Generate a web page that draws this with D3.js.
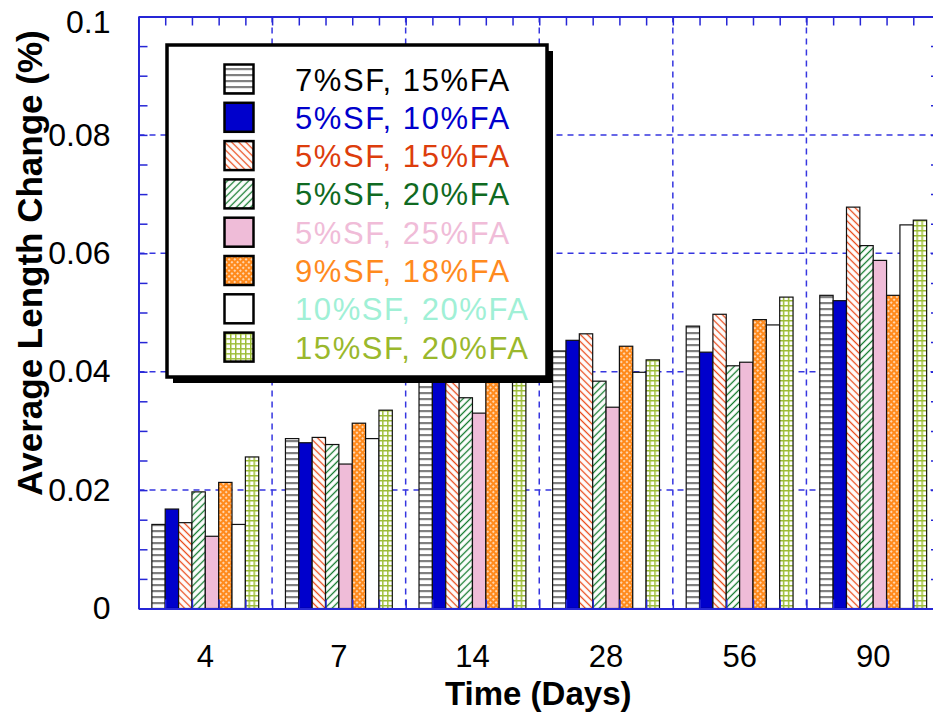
<!DOCTYPE html>
<html>
<head>
<meta charset="utf-8">
<script src="https://cdn.jsdelivr.net/npm/d3@7"></script>
<style>
  body { margin: 0; background: #fff; }
  svg { display: block; font-family: "Liberation Sans", Arial, sans-serif; }
</style>
</head>
<body>
<div id="chart"></div>
<script>
// categories and series
const days = ['4', '7', '14', '28', '56', '90'];
const mixes = [
  '7%SF, 15%FA', '5%SF, 10%FA', '5%SF, 15%FA', '5%SF, 20%FA',
  '5%SF, 25%FA', '9%SF, 18%FA', '10%SF, 20%FA', '15%SF, 20%FA',
];
const sf7fa15 = [0.0142, 0.0287, 0.0400, 0.0435, 0.0477, 0.0529];
const sf5fa10 = [0.0168, 0.0280, 0.0410, 0.0453, 0.0433, 0.0520];
const sf5fa15 = [0.0145, 0.0289, 0.0420, 0.0464, 0.0497, 0.0678];
const sf5fa20 = [0.0197, 0.0277, 0.0356, 0.0384, 0.0410, 0.0613];
const sf5fa25 = [0.0122, 0.0244, 0.0330, 0.0340, 0.0416, 0.0588];
const sf9fa18 = [0.0213, 0.0313, 0.0430, 0.0443, 0.0488, 0.0529];
const sf10fa20 = [0.0142, 0.0287, 0.0390, 0.0399, 0.0479, 0.0648];
const sf15fa20 = [0.0256, 0.0335, 0.0400, 0.0420, 0.0526, 0.0656];
const seriesValues = [sf7fa15, sf5fa10, sf5fa15, sf5fa20, sf5fa25, sf9fa18, sf10fa20, sf15fa20];
const yMajorTicks = [0, 0.02, 0.04, 0.06, 0.08, 0.1];
const yTickLabels = ['0', '0.02', '0.04', '0.06', '0.08', '0.1'];

const textColors = ['#000000', '#0000cc', '#dd3d0c', '#0f6a22', '#f0bcd8', '#ff8a1e', '#a0f0d6', '#9ab82c'];
const fills = ['url(#p-hstripe)', '#0000cc', 'url(#p-bdiag)', 'url(#p-fdiag)', '#efbcd8', 'url(#p-dots)', '#ffffff', 'url(#p-grid)'];

const W = 933;
const H = 714;
const plot = { left: 138.5, top: 16.5, right: 940, bottom: 608.5 };
const axisColor = '#2626d6';

const svg = d3.select('#chart').append('svg')
  .attr('width', W)
  .attr('height', H);

// patterns
const defs = svg.append('defs');

const hs = defs.append('pattern').attr('id', 'p-hstripe')
  .attr('patternUnits', 'userSpaceOnUse').attr('width', 6).attr('height', 6);
hs.append('rect').attr('width', 6).attr('height', 6).attr('fill', '#fff');
hs.append('rect').attr('y', 2).attr('width', 6).attr('height', 2.2).attr('fill', '#808080');

const bd = defs.append('pattern').attr('id', 'p-bdiag')
  .attr('patternUnits', 'userSpaceOnUse').attr('width', 5).attr('height', 5)
  .attr('patternTransform', 'rotate(-45)');
bd.append('rect').attr('width', 5).attr('height', 5).attr('fill', '#fff');
bd.append('line').attr('x1', 2.5).attr('x2', 2.5).attr('y1', 0).attr('y2', 5)
  .attr('stroke', '#ea4a1a').attr('stroke-width', 1.3);

const fd = defs.append('pattern').attr('id', 'p-fdiag')
  .attr('patternUnits', 'userSpaceOnUse').attr('width', 5).attr('height', 5)
  .attr('patternTransform', 'rotate(45)');
fd.append('rect').attr('width', 5).attr('height', 5).attr('fill', '#fff');
fd.append('line').attr('x1', 2.5).attr('x2', 2.5).attr('y1', 0).attr('y2', 5)
  .attr('stroke', '#137a2e').attr('stroke-width', 1.3);

const dt = defs.append('pattern').attr('id', 'p-dots')
  .attr('patternUnits', 'userSpaceOnUse').attr('width', 4).attr('height', 4)
  .attr('patternTransform', 'rotate(45)');
dt.append('rect').attr('width', 4).attr('height', 4).attr('fill', '#ff8a1c');
dt.append('rect').attr('x', 1.2).attr('y', 1.2).attr('width', 1.6).attr('height', 1.6).attr('fill', '#fff');

const gr = defs.append('pattern').attr('id', 'p-grid')
  .attr('patternUnits', 'userSpaceOnUse').attr('width', 5).attr('height', 5);
gr.append('rect').attr('width', 5).attr('height', 5).attr('fill', '#fff');
gr.append('path').attr('d', 'M0,0.75H5M0.75,0V5')
  .attr('stroke', '#9dbd38').attr('stroke-width', 1.5).attr('fill', 'none');

// scales
const x0 = d3.scaleBand().domain(days).range([plot.left, plot.right]).padding(0);
const x1 = d3.scaleBand().domain(mixes).range([0, x0.bandwidth()])
  .paddingInner(0).paddingOuter(1);
const xMinor = d3.scaleLinear().domain([0, days.length]).range([plot.left, plot.right]);
const y = d3.scaleLinear().domain([0, 0.1]).range([plot.bottom, plot.top]);

// grid lines
const grid = svg.append('g').attr('class', 'grid')
  .attr('stroke', '#3636e0').attr('stroke-width', 1.5).attr('stroke-dasharray', '6,5');
grid.selectAll('.gy').data(yMajorTicks.slice(1, -1)).join('line')
  .attr('x1', plot.left).attr('x2', plot.right)
  .attr('y1', (d) => y(d)).attr('y2', (d) => y(d));
grid.selectAll('.gx').data(d3.range(1, days.length)).join('line')
  .attr('x1', (d) => xMinor(d)).attr('x2', (d) => xMinor(d))
  .attr('y1', plot.top).attr('y2', plot.bottom);

// bars
const rows = days.map((day, i) => ({ day, values: mixes.map((m, j) => ({ mix: m, j, v: seriesValues[j][i] })) }));
svg.append('g').selectAll('g').data(rows).join('g')
  .attr('transform', (d) => `translate(${x0(d.day)},0)`)
  .selectAll('rect').data((d) => d.values).join('rect')
  .attr('x', (d) => x1(d.mix))
  .attr('y', (d) => y(d.v))
  .attr('width', x1.bandwidth())
  .attr('height', (d) => y(0) - y(d.v))
  .attr('fill', (d) => fills[d.j])
  .attr('stroke', '#111')
  .attr('stroke-width', 1.2);

// axes frame with inward ticks
const minorX = d3.range(0, days.length * 5 + 1).map((d) => d / 5);
const minorY = d3.range(0, 21).map((d) => d * 0.005);

const styleAxis = (g) => {
  g.select('.domain').attr('stroke', axisColor).attr('stroke-width', 2);
  g.selectAll('.tick line').attr('stroke', axisColor).attr('stroke-width', 1.5);
};

svg.append('g').attr('transform', `translate(0,${plot.top})`)
  .call(d3.axisTop(xMinor).tickValues(minorX).tickSize(-9).tickSizeOuter(0).tickFormat(''))
  .call(styleAxis);
svg.append('g').attr('transform', `translate(0,${plot.bottom})`)
  .call(d3.axisBottom(xMinor).tickValues(minorX).tickSize(-9).tickSizeOuter(0).tickFormat(''))
  .call(styleAxis);
svg.append('g').attr('transform', `translate(${plot.left},0)`)
  .call(d3.axisLeft(y).tickValues(minorY).tickSize(-9).tickSizeOuter(0).tickFormat(''))
  .call(styleAxis);
svg.append('g').attr('transform', `translate(${plot.right},0)`)
  .call(d3.axisRight(y).tickValues(minorY).tickSize(-9).tickSizeOuter(0).tickFormat(''))
  .call(styleAxis);

// tick labels
const yLab = svg.append('g').attr('transform', `translate(${plot.left},0)`)
  .call(d3.axisLeft(y).tickValues(yMajorTicks).tickSize(0).tickPadding(28)
    .tickFormat((d, i) => yTickLabels[i]));
yLab.select('.domain').remove();
yLab.selectAll('text').attr('font-size', 32).attr('fill', '#000')
  .attr('font-family', '"Liberation Sans", Arial, sans-serif')
  .attr('dy', (d) => (d === 0.1 ? '0.5em' : '0.32em'));

const xLab = svg.append('g').attr('transform', `translate(0,${plot.bottom})`)
  .call(d3.axisBottom(x0).tickSize(0).tickPadding(36));
xLab.select('.domain').remove();
xLab.selectAll('text').attr('font-size', 31).attr('fill', '#000')
  .attr('font-family', '"Liberation Sans", Arial, sans-serif');

// axis titles
svg.append('text')
  .attr('x', (plot.left + plot.right) / 2 - 1)
  .attr('y', 705)
  .attr('text-anchor', 'middle')
  .attr('font-size', 33)
  .attr('font-weight', 'bold')
  .text('Time (Days)');

svg.append('text')
  .attr('transform', 'translate(42,263) rotate(-90)')
  .attr('text-anchor', 'middle')
  .attr('font-size', 35)
  .attr('font-weight', 'bold')
  .text('Average Length Change (%)');

// legend
const lg = { x: 167, y: 45, w: 380, h: 332 };
svg.append('rect')
  .attr('x', lg.x + 6).attr('y', lg.y + 6).attr('width', lg.w).attr('height', lg.h)
  .attr('fill', '#000');
svg.append('rect')
  .attr('x', lg.x).attr('y', lg.y).attr('width', lg.w).attr('height', lg.h)
  .attr('fill', '#fff').attr('stroke', '#000').attr('stroke-width', 3.5);

const items = svg.append('g').selectAll('g').data(mixes).join('g')
  .attr('transform', (d, i) => `translate(0,${i * 38.3})`);
items.append('rect')
  .attr('x', 224.5).attr('y', 64.5).attr('width', 29).attr('height', 29)
  .attr('fill', (d, i) => fills[i])
  .attr('stroke', '#000').attr('stroke-width', 2.5);
items.append('text')
  .attr('x', 295).attr('y', 90.5)
  .attr('font-size', 31)
  .attr('letter-spacing', 1.6)
  .attr('fill', (d, i) => textColors[i])
  .text((d) => d);
</script>
</body>
</html>
